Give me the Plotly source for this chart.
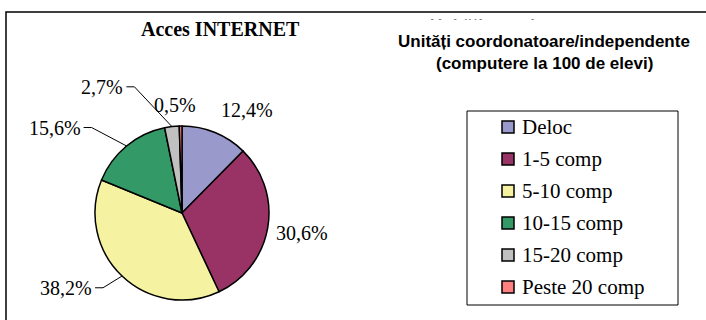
import math
import plotly.graph_objects as go

# Acces INTERNET - computere la 100 de elevi
categories = ["Deloc", "1-5 comp", "5-10 comp", "10-15 comp", "15-20 comp", "Peste 20 comp"]
shares = [12.4, 30.6, 38.2, 15.6, 2.7, 0.5]
colors = ["#9999CC", "#993366", "#F5F2A1", "#339966", "#C0C0C0", "#FF8080"]

title_left = "Acces INTERNET"
title_hidden = "Unități coordonatoare"
title_right = ["Unități coordonatoare/independente", "(computere la 100 de elevi)"]

W, H = 706, 320
SERIF = "Liberation Serif, Times New Roman, serif"
SANS = "Liberation Sans, Arial, sans-serif"

# pie geometry in pixels
CX, CY, R = 182, 213, 87


def px(x):
    return x / W


def py(y):
    return 1 - y / H


# label placement: radius factor, angle nudge (deg), leader?, xanchor, yanchor
label_style = [
    (1.12, 0.0, False, "left", "bottom"),
    (1.08, 2.5, False, "left", "middle"),
    (1.25, 3.0, True, "right", "middle"),
    (1.43, -7.0, True, "right", "middle"),
    (1.55, -14.0, True, "right", "middle"),
    (1.245, -2.8, False, "center", "middle"),
]

fig = go.Figure(
    go.Pie(
        labels=categories,
        values=shares,
        sort=False,
        direction="clockwise",
        rotation=0,
        marker=dict(colors=colors, line=dict(color="black", width=1.5)),
        textinfo="none",
        hoverinfo="label+percent",
        showlegend=False,
        domain=dict(x=[px(CX - R), px(CX + R)], y=[py(CY + R), py(CY - R)]),
    )
)

shapes = []
annotations = []

# outer frame
shapes.append(dict(type="rect", xref="paper", yref="paper",
                   x0=px(6), y0=py(340), x1=px(730), y1=py(12),
                   line=dict(color="black", width=1.5)))

total = sum(shares)
cum = 0.0
for i, v in enumerate(shares):
    mid = (cum + v / 2) / total * 360.0
    cum += v
    k, nudge, leader, xa, ya = label_style[i]
    a = math.radians(mid + nudge)
    lx, ly = CX + k * R * math.sin(a), CY - k * R * math.cos(a)
    text = f"{v:.1f}".replace(".", ",") + "%"
    if leader:
        m = math.radians(mid)
        ex, ey = CX + R * math.sin(m), CY - R * math.cos(m)
        tx = lx - 8 if xa == "right" else lx + 8
        shapes.append(dict(type="path", xref="paper", yref="paper",
                           path=f"M {px(ex)},{py(ey)} L {px(lx)},{py(ly)} L {px(tx)},{py(ly)}",
                           line=dict(color="black", width=1)))
        lx = tx - 1 if xa == "right" else tx + 1
    annotations.append(dict(x=px(lx), y=py(ly), xref="paper", yref="paper",
                            text=text, showarrow=False, xanchor=xa, yanchor=ya,
                            font=dict(family=SERIF, size=20, color="black")))

# titles
annotations.append(dict(x=px(221), y=py(29), xref="paper", yref="paper",
                        text=f"<b>{title_left}</b>", showarrow=False,
                        xanchor="center", yanchor="middle",
                        font=dict(family=SERIF, size=20, color="black")))
# an older heading line, mostly hidden behind the current one
annotations.append(dict(x=px(518), y=py(25), xref="paper", yref="paper",
                        text=f"<b>{title_hidden}</b>", showarrow=False,
                        xanchor="center", yanchor="middle",
                        font=dict(family=SANS, size=17, color="black")))
for j, line in enumerate(title_right):
    annotations.append(dict(x=px(544), y=py(41 + 23 * j), xref="paper", yref="paper",
                            text=f"<b>{line}</b>", showarrow=False,
                            xanchor="center", yanchor="middle",
                            bgcolor="white" if j == 0 else None,
                            borderpad=12 if j == 0 else 1,
                            font=dict(family=SANS, size=17, color="black")))

# legend box
shapes.append(dict(type="rect", xref="paper", yref="paper",
                   x0=px(467), y0=py(305), x1=px(678), y1=py(111),
                   line=dict(color="black", width=1), fillcolor="white"))
for i, (cat, col) in enumerate(zip(categories, colors)):
    yc = 127 + 32 * i
    shapes.append(dict(type="rect", xref="paper", yref="paper",
                       x0=px(502), y0=py(yc + 6), x1=px(514), y1=py(yc - 6),
                       line=dict(color="black", width=1.5), fillcolor=col))
    annotations.append(dict(x=px(520), y=py(yc), xref="paper", yref="paper",
                            text=cat, showarrow=False, xanchor="left", yanchor="middle",
                            font=dict(family=SERIF, size=21, color="black")))

fig.update_layout(
    width=W, height=H,
    margin=dict(l=0, r=0, t=0, b=0),
    paper_bgcolor="white", plot_bgcolor="white",
    shapes=shapes, annotations=annotations,
)

fig.write_html("out.html")
